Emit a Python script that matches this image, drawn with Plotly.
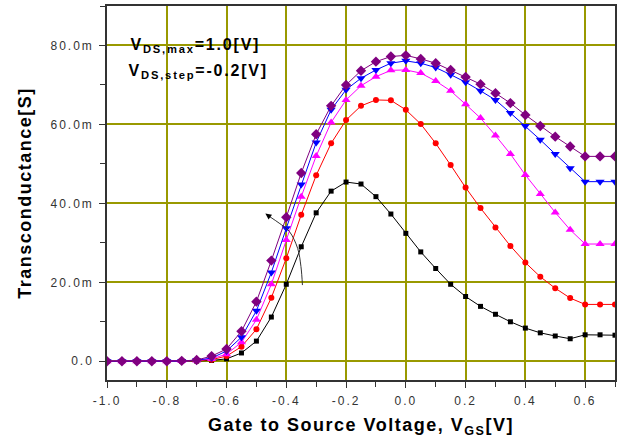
import plotly.graph_objects as go

# Gate-source voltage (V)
vgs = [-1.0, -0.95, -0.9, -0.85, -0.8, -0.75, -0.7, -0.65, -0.6, -0.55, -0.5, -0.45,
       -0.4, -0.35, -0.3, -0.25, -0.2, -0.15, -0.1, -0.05, 0.0, 0.05, 0.1, 0.15,
       0.2, 0.25, 0.3, 0.35, 0.4, 0.45, 0.5, 0.55, 0.6, 0.65, 0.7]

# Transconductance in mS for each VDS step
gm_black = [0, 0, 0, 0, 0, 0, 0.05, 0.2, 0.6, 2.1, 5.1, 11.2, 19.5, 29.0, 37.6, 43.1,
            45.4, 44.9, 41.7, 37.3, 32.4, 27.7, 23.5, 19.5, 16.4, 13.9, 11.9, 10.0,
            8.4, 7.2, 6.4, 5.7, 6.7, 6.7, 6.6]
gm_red = [0, 0, 0, 0, 0, 0.05, 0.15, 0.4, 1.3, 3.7, 8.1, 16.1, 26.1, 37.1, 47.1, 55.2,
          61.1, 64.7, 66.2, 66.1, 63.7, 60.1, 55.2, 49.7, 44.0, 38.8, 33.9, 29.2,
          25.0, 21.4, 18.5, 16.0, 14.4, 14.4, 14.4]
gm_magenta = [0, 0, 0, 0, 0, 0.05, 0.2, 0.6, 1.8, 4.8, 10.5, 19.5, 30.7, 41.7, 52.0,
              60.5, 66.2, 69.8, 72.1, 73.7, 73.8, 73.0, 71.0, 68.5, 65.1, 61.6, 57.2,
              52.5, 47.2, 42.4, 37.7, 33.3, 29.7, 29.7, 29.7]
gm_blue = [0, 0, 0, 0, 0, 0.05, 0.25, 0.8, 2.6, 6.1, 12.8, 22.5, 33.7, 44.8, 55.4,
           63.7, 68.8, 71.7, 73.8, 75.5, 76.1, 75.5, 74.4, 72.6, 70.7, 68.5, 66.2,
           62.9, 59.6, 56.1, 52.5, 48.9, 45.5, 45.5, 45.5]
gm_purple = [0, 0, 0, 0, 0, 0.1, 0.3, 1.3, 3.1, 7.6, 15.1, 25.5, 36.5, 47.7, 57.5,
             64.7, 70.0, 73.6, 75.9, 77.2, 77.5, 76.6, 75.5, 73.8, 72.0, 70.2, 67.9,
             65.4, 62.4, 59.6, 56.9, 54.4, 51.9, 51.9, 51.9]

# Arrow path (V, mS) indicating increasing VDS
arrow_x = [-0.346, -0.351, -0.362, -0.390, -0.424, -0.455]
arrow_y = [19.3, 24.0, 28.6, 32.9, 35.0, 36.6]
arrow_tip = (-0.470, 37.4)

# Tick labels
y_tickvals_mS = [0, 20, 40, 60, 80]
y_ticktext = ["0.0", "20.0m", "40.0m", "60.0m", "80.0m"]
x_tickvals = [-1.0, -0.8, -0.6, -0.4, -0.2, 0.0, 0.2, 0.4, 0.6]
x_ticktext = ["-1.0", "-0.8", "-0.6", "-0.4", "-0.2", "0.0", "0.2", "0.4", "0.6"]

series = [
    (gm_black, "#000000", "square", 5),
    (gm_red, "#ff0000", "circle", 6),
    (gm_magenta, "#ff00ff", "triangle-up", 8),
    (gm_blue, "#0000ff", "triangle-down", 8),
    (gm_purple, "#800080", "diamond", 8),
]

fig = go.Figure()
for vals, color, sym, size in series:
    fig.add_trace(go.Scatter(
        x=vgs, y=[v * 1e-3 for v in vals], mode="lines+markers",
        line=dict(color=color, width=1),
        marker=dict(symbol=sym, size=size, color=color, line=dict(width=0)),
        showlegend=False, hoverinfo="skip"))

fig.add_trace(go.Scatter(
    x=arrow_x, y=[v * 1e-3 for v in arrow_y], mode="lines",
    line=dict(color="#333333", width=1, shape="spline"),
    showlegend=False, hoverinfo="skip"))

fig.add_annotation(x=arrow_tip[0], y=arrow_tip[1] * 1e-3, ax=arrow_x[-1], ay=arrow_y[-1] * 1e-3,
                   xref="x", yref="y", axref="x", ayref="y", text="",
                   showarrow=True, arrowhead=2, arrowsize=1.2, arrowwidth=1,
                   arrowcolor="#000000")

ann_font = dict(family="Liberation Sans, Arial", size=16, color="black")
fig.add_annotation(x=-0.887, y=80.0e-3, xref="x", yref="y", xanchor="left", yanchor="middle",
                   text="<b>V<sub>DS,max</sub>=1.0[V]</b>", showarrow=False, font=ann_font)
fig.add_annotation(x=-0.887, y=73.3e-3, xref="x", yref="y", xanchor="left", yanchor="middle",
                   text="<b>V<sub>DS,step</sub>=-0.2[V]</b>", showarrow=False, font=ann_font)

grid_color = "#999900"
tick_font = dict(family="Liberation Sans, Arial", size=12, color="#333333")
title_font = dict(family="Liberation Sans, Arial", size=18, color="black")

fig.update_xaxes(
    range=[-1.0, 0.7], tickvals=x_tickvals, ticktext=x_ticktext,
    showgrid=True, gridcolor=grid_color, gridwidth=1.5, zeroline=False,
    showline=True, linecolor="#333333", linewidth=1.5, mirror=True,
    ticks="outside", ticklen=6, tickcolor="#333333", ticklabelstandoff=3,
    minor=dict(dtick=0.1, tick0=-1.0, ticks="outside", ticklen=5, tickcolor="#333333", showgrid=False),
    tickfont=tick_font,
    title=dict(text="<b>Gate to Source Voltage, V<sub>GS</sub>[V]</b>", font=title_font, standoff=11))
fig.update_yaxes(
    range=[-4.75e-3, 90e-3], tickvals=[v * 1e-3 for v in y_tickvals_mS], ticktext=y_ticktext,
    showgrid=True, gridcolor=grid_color, gridwidth=1.5, zeroline=False,
    showline=True, linecolor="#333333", linewidth=1.5, mirror=True,
    ticks="outside", ticklen=6, tickcolor="#333333", ticklabelstandoff=3,
    minor=dict(dtick=10e-3, tick0=0, ticks="outside", ticklen=5, tickcolor="#333333", showgrid=False),
    tickfont=tick_font,
    title=dict(text="<b>Transconductance[S]</b>", font=title_font, standoff=24))

fig.update_layout(
    width=628, height=439,
    margin=dict(l=107, r=13, t=6, b=59, autoexpand=False),
    paper_bgcolor="white", plot_bgcolor="white",
    showlegend=False)

post_js = """
document.body.style.margin = '0';
document.body.style.overflow = 'hidden';
function spaceText(){
  document.querySelectorAll('.xtick text, .ytick text').forEach(function(t){
    t.style.letterSpacing = '2px';
  });
  document.querySelectorAll('.g-xtitle text, .g-ytitle text').forEach(function(t){
    t.style.letterSpacing = '1.5px';
  });
  document.querySelectorAll('.annotation-text').forEach(function(t){
    t.style.letterSpacing = '1.8px';
  });
}
spaceText();
setTimeout(spaceText, 50);
"""

fig.write_html("out.html", post_script=post_js, config={"displayModeBar": False})
